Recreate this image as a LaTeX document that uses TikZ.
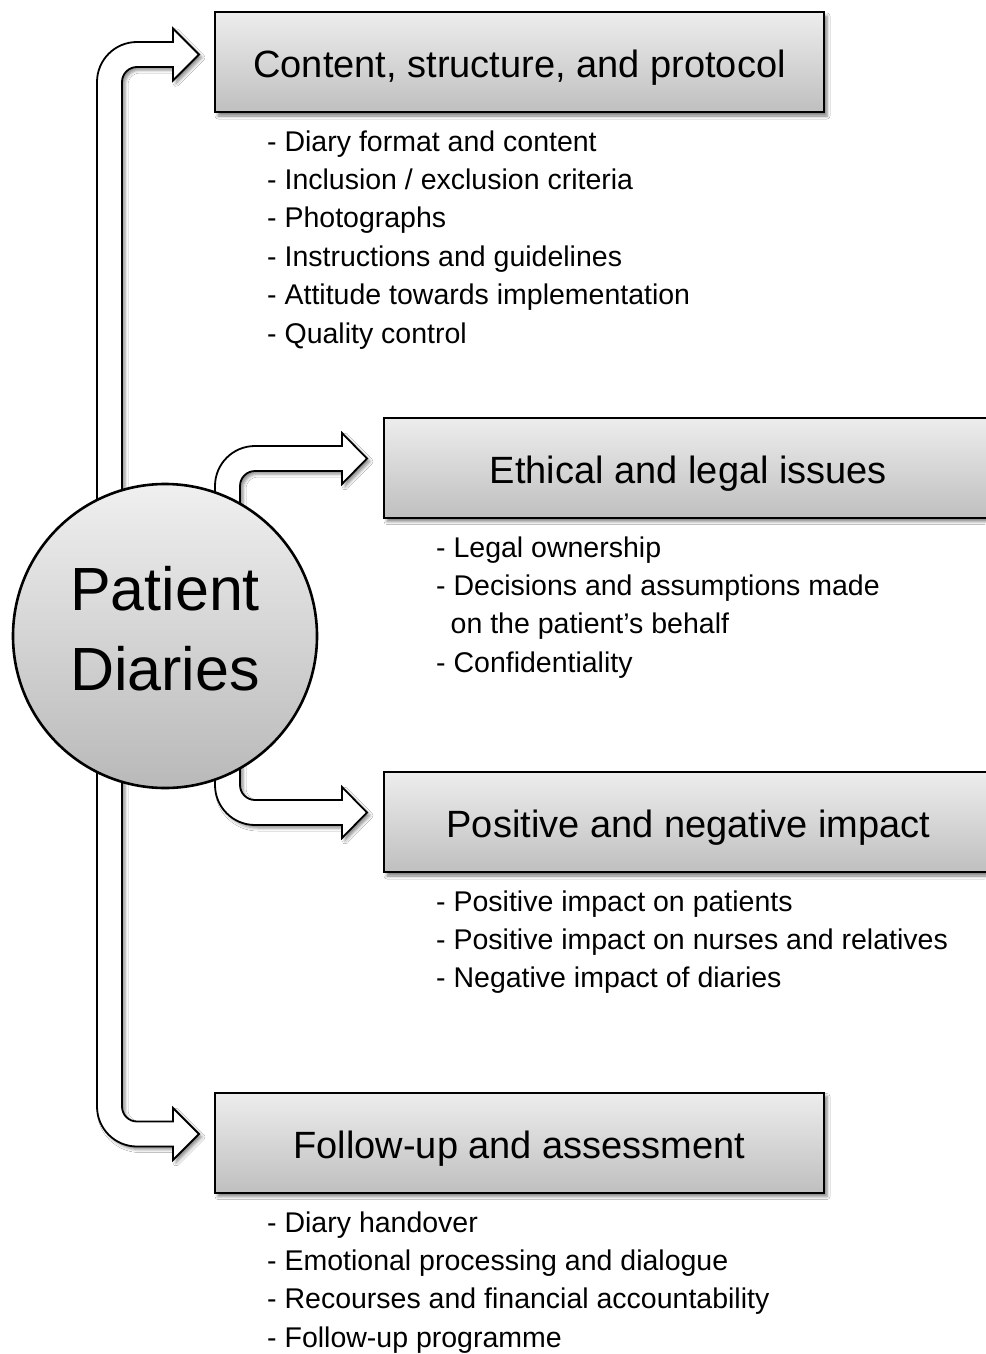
\documentclass[tikz,border=0pt]{standalone}
\usepackage{fontspec}
\setmainfont{Liberation Sans}
\usetikzlibrary{shadows.blur}
\tikzset{
  blockarrow/.style={draw=black, fill=white, line width=1.8pt, line join=miter,
    blur shadow={shadow xshift=3pt, shadow yshift=-3pt, shadow blur radius=3pt, shadow opacity=45}},
  topicbox/.style={draw=black, line width=2pt, minimum width=609pt, minimum height=100pt,
    inner sep=0pt, top color=gray!14, bottom color=gray!50,
    blur shadow={shadow xshift=3pt, shadow yshift=-4pt, shadow blur radius=3pt, shadow opacity=50}},
  topictext/.style={anchor=base, inner sep=0pt, font=\fontsize{38}{44}\selectfont},
  hub/.style={circle, draw=black, line width=2.6pt, minimum size=304pt, inner sep=0pt,
    top color=gray!12, bottom color=gray!55},
  hubtext/.style={anchor=base, inner sep=0pt, font=\fontsize{61}{70}\selectfont},
  listitem/.style={anchor=base west, inner sep=0pt, font=\fontsize{28.5}{34}\selectfont}
}
\begin{document}
\begin{tikzpicture}[x=1pt, y=-1pt]
\useasboundingbox (0,0) rectangle (985,1354);
\fill[white] (0,0) rectangle (985,1354);

% big arrow (top and bottom)
\draw[blockarrow] (173,42) -- (173,28.5) -- (199,54.5) -- (173,80.5) -- (173,67) -- (137,67)
  .. controls (128.7,67) and (122,73.7) .. (122,82) -- (122,1106.5)
  .. controls (122,1114.8) and (128.7,1121.5) .. (137,1121.5) -- (173,1121.5) -- (173,1108)
  -- (199,1134) -- (173,1160) -- (173,1146.5) -- (137,1146.5)
  .. controls (114.9,1146.5) and (97,1128.6) .. (97,1106.5) -- (97,82)
  .. controls (97,59.9) and (114.9,42) .. (137,42) -- cycle;

% arrow to ethical
\draw[blockarrow] (215,560) -- (215,486) .. controls (215,463.9) and (232.9,446) .. (255,446)
  -- (342,446) -- (342,433) -- (367,458.5) -- (342,484) -- (342,471) -- (255,471)
  .. controls (246.7,471) and (240,477.7) .. (240,486) -- (240,560) -- cycle;

% arrow to impact
\draw[blockarrow] (240,700) -- (240,785) .. controls (240,793.3) and (246.7,800) .. (255,800)
  -- (342,800) -- (342,787) -- (367,812.5) -- (342,838) -- (342,825) -- (255,825)
  .. controls (232.9,825) and (215,807.1) .. (215,785) -- (215,700) -- cycle;

% hub
\node[hub] (hubc) at (165,636) {};
\node[hubtext] (hub1) at (165,610) {Patient};
\node[hubtext] (hub2) at (165,690) {Diaries};

% boxes
\node[topicbox] (b1) at (519.5,62) {};
\node[topictext] (t1) at (519.5,77.5) {Content, structure, and protocol};
\node[topicbox] (b2) at (688.5,467.5) {};
\node[topictext] (t2) at (688.5,483) {Ethical and legal issues};
\node[topicbox] (b3) at (688.5,822) {};
\node[topictext] (t3) at (688.5,837.5) {Positive and negative impact};
\node[topicbox] (b4) at (519.5,1142.5) {};
\node[topictext] (t4) at (519.5,1158) {Follow-up and assessment};

% list 1
\node[listitem] (l11) at (267,151) {- Diary format and content};
\node[listitem] (l12) at (267,189.4) {- Inclusion / exclusion criteria};
\node[listitem] (l13) at (267,227.8) {- Photographs};
\node[listitem] (l14) at (267,266.2) {- Instructions and guidelines};
\node[listitem] (l15) at (267,304.6) {- Attitude towards implementation};
\node[listitem] (l16) at (267,343) {- Quality control};

% list 2
\node[listitem] (l21) at (436,557) {- Legal ownership};
\node[listitem] (l22) at (436,595.4) {- Decisions and assumptions made};
\node[listitem] (l23) at (450.5,633.8) {on the patient’s behalf};
\node[listitem] (l24) at (436,672.2) {- Confidentiality};

% list 3
\node[listitem] (l31) at (436,911) {- Positive impact on patients};
\node[listitem] (l32) at (436,949.4) {- Positive impact on nurses and relatives};
\node[listitem] (l33) at (436,987.8) {- Negative impact of diaries};

% list 4
\node[listitem] (l41) at (267,1232) {- Diary handover};
\node[listitem] (l42) at (267,1270.4) {- Emotional processing and dialogue};
\node[listitem] (l43) at (267,1308.8) {- Recourses and financial accountability};
\node[listitem] (l44) at (267,1347.2) {- Follow-up programme};
\end{tikzpicture}
\end{document}
